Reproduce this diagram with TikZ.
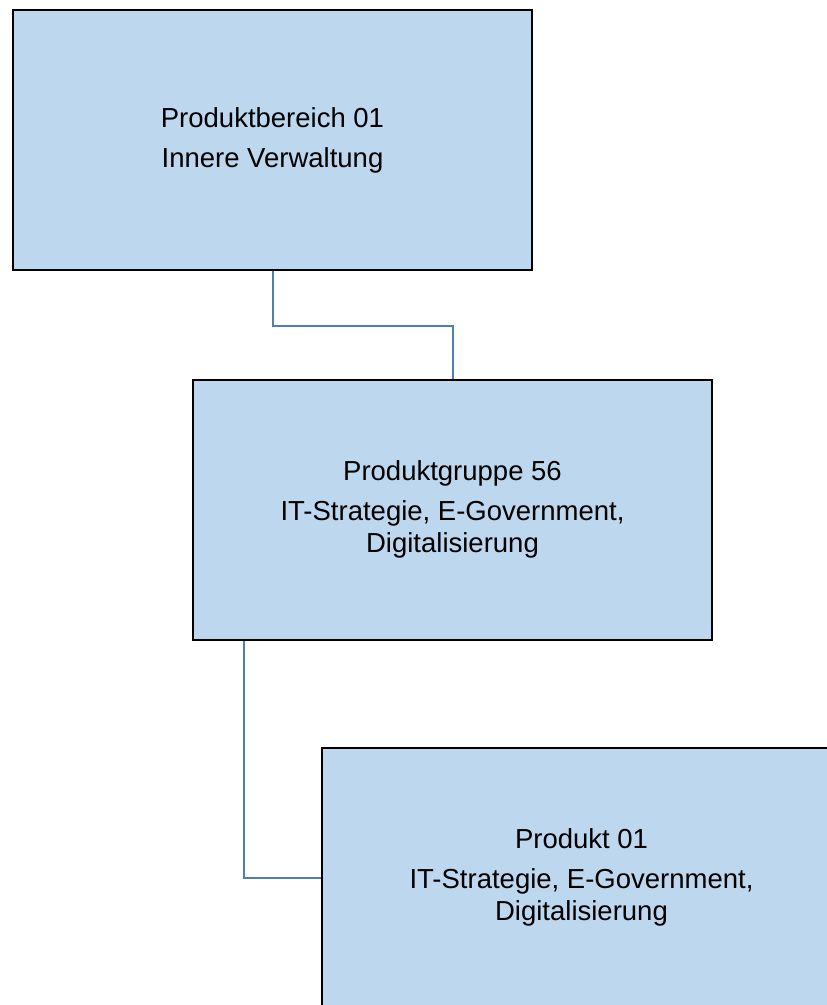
\documentclass[tikz,border=0pt]{standalone}
\usepackage{fontspec}
\setmainfont{Liberation Sans}
\usetikzlibrary{positioning}
\definecolor{boxfill}{HTML}{BDD7EE}
\definecolor{linkblue}{HTML}{4D7FB5}
\tikzset{x=1pt, y=-1pt,
unit/.style={ % Sets the properties for each box
draw=black,
line width=2pt,
fill=boxfill,
minimum width=519pt,
minimum height=260pt,
inner sep=0pt,
align=center,
font=\fontsize{27.5}{32}\selectfont},
link/.style={ % Sets the properties for each connector
draw=linkblue,
line width=2pt}}

\begin{document}
\begin{tikzpicture}
\useasboundingbox (0,0) rectangle (827,1005);
\clip (0,0) rectangle (827,1005);
\node[unit] (pb) at (272.5,140) {Produktbereich 01\\[8pt]Innere Verwaltung};
\node[unit] (pg) at (452.5,509.5) {Produktgruppe 56\\[8pt]IT-Strategie, E-Government,\\Digitalisierung};
\node[unit] (pr) at (581.5,877.5) {Produkt 01\\[8pt]IT-Strategie, E-Government,\\Digitalisierung};
\draw[link] (pb.south) -- ++(0,55) -| (pg.north);
\draw[link] ([xshift=52pt]pg.south west) |- (pr.west);
\end{tikzpicture}
\end{document}
